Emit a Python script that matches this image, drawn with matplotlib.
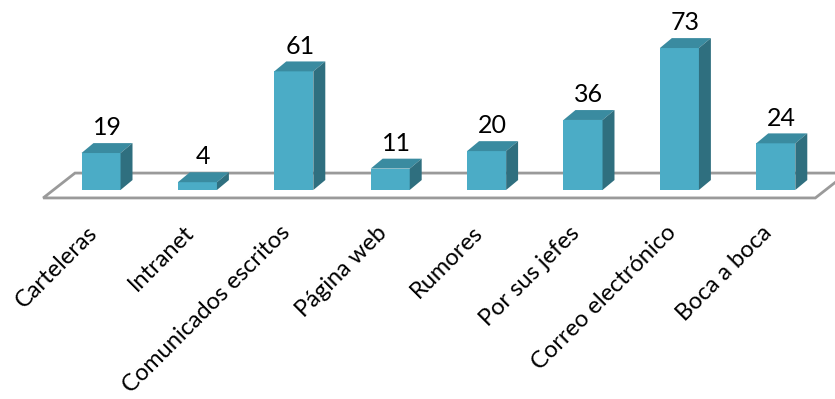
import matplotlib.pyplot as plt
from matplotlib.patches import Polygon

categorias = ["Carteleras", "Intranet", "Comunicados escritos", "Página web",
              "Rumores", "Por sus jefes", "Correo electrónico", "Boca a boca"]
valores = [19, 4, 61, 11, 20, 36, 73, 24]

plt.rcParams['font.family'] = ['Lato', 'DejaVu Sans']

fig = plt.figure(figsize=(8.35, 3.99), dpi=100)
ax = fig.add_axes([0, 0, 1, 1])
ax.set_xlim(-1.048, 7.614)
ax.set_ylim(-107.5, 97.7)
ax.axis('off')

ancho = 0.405   # ancho de la cara frontal
dx, dy = 0.124, 5.1   # profundidad de la barra

frente = '#4BACC6'
techo = '#3A8BA0'
lado = '#2F6F7F'

# piso en perspectiva
piso = Polygon([(-0.60, -4.1), (7.41, -4.1), (7.74, 8.7), (-0.27, 8.7)],
               closed=True, facecolor='white', edgecolor='#9a9a9a', lw=2, zorder=1)
ax.add_patch(piso)

for i, (cat, v) in enumerate(zip(categorias, valores)):
    x0, x1 = i - ancho / 2, i + ancho / 2
    ax.add_patch(Polygon([(x0, 0), (x1, 0), (x1, v), (x0, v)],
                         facecolor=frente, edgecolor='none', zorder=3))
    ax.add_patch(Polygon([(x0, v), (x1, v), (x1 + dx, v + dy), (x0 + dx, v + dy)],
                         facecolor=techo, edgecolor='none', zorder=3))
    ax.add_patch(Polygon([(x1, 0), (x1 + dx, dy), (x1 + dx, v + dy), (x1, v)],
                         facecolor=lado, edgecolor='none', zorder=3))
    ax.text(i + dx / 2, v + dy + 2, str(v), ha='center', va='bottom',
            fontsize=18, color='black')
    ax.text(i - 0.15, -16.5, cat, rotation=45, rotation_mode='anchor',
            ha='right', va='top', fontsize=17, color='black')

fig.savefig('out.png', dpi=100)
